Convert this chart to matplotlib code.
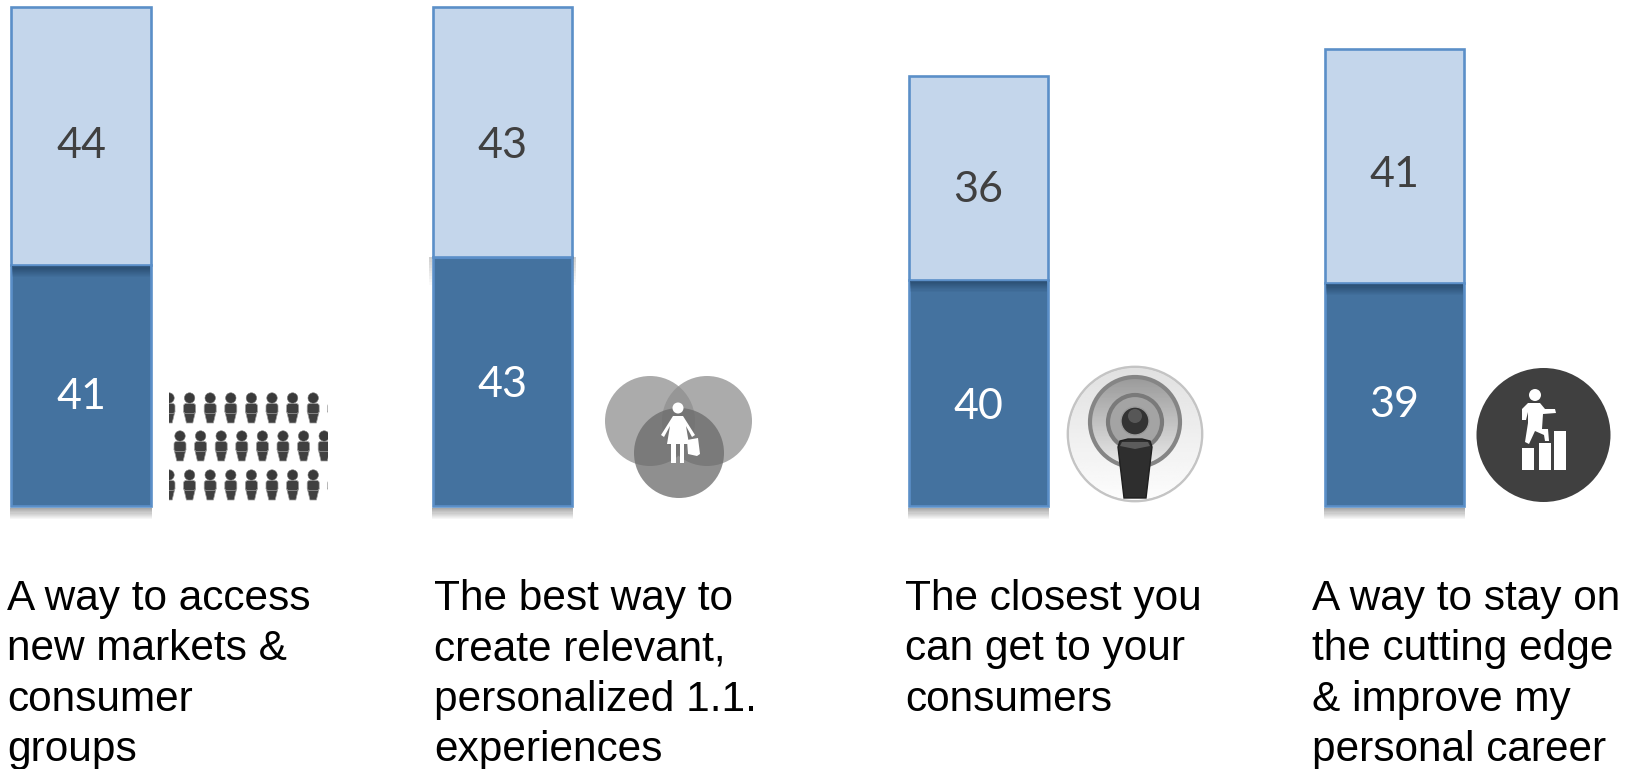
#!/usr/bin/env python3
"""
Stacked survey bars with an icon and a caption for each statement.
"""
import matplotlib

matplotlib.use("Agg")
import matplotlib.pyplot as plt
import numpy as np
from matplotlib.patches import Circle, FancyBboxPatch, Polygon, Rectangle

# survey values per statement
lower_values = [41, 43, 40, 39]
upper_values = [44, 43, 36, 41]
captions = [
    "A way to access\nnew markets &\nconsumer\ngroups",
    "The best way to\ncreate relevant,\npersonalized 1.1.\nexperiences",
    "The closest you\ncan get to your\nconsumers",
    "A way to stay on\nthe cutting edge\n& improve my\npersonal career",
]

WIDTH, HEIGHT = 1629, 769
BAR_LEFT = [11, 433, 909, 1325]
BAR_RIGHT = [151, 572, 1048, 1464]
BAR_TOP = [7, 7, 76, 49]
BAR_BOTTOM = 506
CAPTION_X = [7, 434, 905, 1312]
UPPER_LABEL_Y = [146, 146, 190, 175]
LOWER_LABEL_Y = [397, 385, 407, 405]

DARK = "#44729F"
LIGHT = "#C4D6EB"
EDGE = "#5B8FC8"
TEXT_DARK = "#404040"


def soft_band(ax, x0, x1, y0, y1, color, peak, steps=10):
    """Fade a band from y0 (strong) to y1 (nothing)."""
    ys = np.linspace(y0, y1, steps + 1)
    for i in range(steps):
        alpha = peak * (1 - i / steps)
        ax.add_patch(Rectangle((x0, ys[i]), x1 - x0, ys[i + 1] - ys[i], fc=color, ec="none", alpha=alpha))


def draw_person(ax, cx, top, clip):
    head = Circle((cx, top + 5), 5.2, fc="#3a3a3a", ec="#777777", lw=0.4)
    body = FancyBboxPatch(
        (cx - 3.5, top + 13), 7, 5, boxstyle="round,pad=2.5", fc="#404040", ec="#a0a0a0", lw=0.5
    )
    legs = Polygon(
        [(cx - 6, top + 18), (cx + 6, top + 18), (cx + 3.2, top + 30), (cx - 3.2, top + 30)],
        closed=True, fc="#404040", ec="#a0a0a0", lw=0.5,
    )
    for part in (legs, body, head):
        ax.add_patch(part)
        part.set_clip_path(clip)


def draw_crowd(ax):
    clip = Rectangle((169, 385), 159, 125, transform=ax.transData)
    for top, first in [(393, 169), (431, 180), (470, 169)]:
        for i in range(9):
            draw_person(ax, first + i * 20.6, top, clip)


def draw_venn(ax):
    ax.add_patch(Circle((650, 421), 45, fc="#8f8f8f", ec="none", alpha=0.75))
    ax.add_patch(Circle((707, 421), 45, fc="#8f8f8f", ec="none", alpha=0.75))
    ax.add_patch(Circle((679, 453), 45, fc="#6a6a6a", ec="none", alpha=0.75))
    # shopper
    ax.add_patch(Circle((678, 408), 5.5, fc="white", ec="none"))
    ax.add_patch(Polygon(
        [(673, 416), (683, 416), (695, 435), (692, 437), (686, 426), (689, 444), (684, 444), (684, 463),
         (680, 463), (680, 444), (676, 444), (676, 463), (671, 463), (671, 444), (667, 444), (670, 426),
         (664, 437), (661, 435)],
        closed=True, fc="white", ec="none",
    ))
    ax.add_patch(Polygon([(687, 440), (698, 438), (700, 454), (697, 456), (688, 454)], closed=True, fc="white", ec="none"))


def draw_podcast(ax):
    cx, cy = 1135, 434
    ax.add_patch(Circle((cx, cy), 67, fc="none", ec="#c4c4c4", lw=2))
    backdrop = ax.imshow(
        np.linspace(0.88, 0.99, 64).reshape(-1, 1), cmap="gray", vmin=0, vmax=1,
        extent=(cx - 67, cx + 67, cy + 67, cy - 67), aspect="auto", zorder=1,
    )
    backdrop.set_clip_path(Circle((cx, cy), 66, transform=ax.transData))
    rings = ax.imshow(
        np.linspace(0.6, 0.92, 64).reshape(-1, 1), cmap="gray", vmin=0, vmax=1,
        extent=(cx - 46, cx + 46, 468, 376), aspect="auto", zorder=2,
    )
    rings.set_clip_path(Circle((cx, 422), 46, transform=ax.transData))
    ax.add_patch(Circle((cx, 422), 45, fc="none", ec="#858585", lw=3, zorder=2))
    ax.add_patch(Circle((cx, 422), 27, fc="#a4a4a4", ec="#7a7a7a", lw=3, zorder=2))
    ax.add_patch(Circle((cx, 421), 14, fc="#333333", ec="#999999", lw=1, zorder=3))
    ax.add_patch(Circle((cx, 416), 7, fc="#707070", ec="none", alpha=0.6, zorder=3))
    ax.add_patch(Polygon(
        [(cx - 17, 447), (cx - 15, 441), (cx - 7, 439), (cx + 7, 439), (cx + 15, 441), (cx + 17, 447),
         (cx + 11, 498), (cx - 11, 498)],
        closed=True, fc="#2e2e2e", ec="#1f1f1f", lw=1, zorder=3,
    ))
    ax.add_patch(Polygon(
        [(cx - 15, 446), (cx - 13, 442), (cx + 13, 442), (cx + 15, 446), (cx, 449)],
        closed=True, fc="#5c5c5c", ec="none", zorder=3,
    ))


def draw_climber(ax):
    ax.add_patch(Circle((1543.5, 435), 67, fc="#404040", ec="none"))
    for left, top in [(1522, 448), (1539, 443), (1554, 431)]:
        ax.add_patch(Rectangle((left, top), 12, 470 - top, fc="white", ec="none"))
    ax.add_patch(Circle((1535, 395), 6, fc="white", ec="none"))
    ax.add_patch(Polygon(
        [(1522, 409), (1528, 403), (1540, 403), (1545, 409), (1555, 409), (1556, 413), (1543, 414),
         (1542, 429), (1548, 429), (1549, 441), (1545, 441), (1544, 435), (1535, 431), (1529, 444),
         (1525, 442), (1528, 423), (1528, 412), (1526, 420), (1522, 420)],
        closed=True, fc="white", ec="none",
    ))


def main() -> None:
    plt.rcParams["font.family"] = ["Liberation Sans", "DejaVu Sans"]
    fig = plt.figure(figsize=(WIDTH / 100, HEIGHT / 100), dpi=100, facecolor="white")

    # one small axes per statement, each on its own scale
    for i in range(4):
        left = BAR_LEFT[i] / WIDTH
        width = (BAR_RIGHT[i] - BAR_LEFT[i]) / WIDTH
        bottom = 1 - BAR_BOTTOM / HEIGHT
        height = (BAR_BOTTOM - BAR_TOP[i]) / HEIGHT
        ax = fig.add_axes([left, bottom, width, height], zorder=2)
        low, up = lower_values[i], upper_values[i]
        ax.bar(0, low, width=1, color=DARK, edgecolor=EDGE, linewidth=1.9, clip_on=False)
        ax.bar(0, up, bottom=low, width=1, color=LIGHT, edgecolor=EDGE, linewidth=1.9, clip_on=False)
        ax.set_xlim(-0.5, 0.5)
        ax.set_ylim(0, low + up)
        ax.axis("off")

    # pixel space for shadows, icons and captions
    over = fig.add_axes([0, 0, 1, 1], zorder=3)
    over.patch.set_alpha(0)
    for i in range(4):
        x0, x1 = BAR_LEFT[i], BAR_RIGHT[i]
        soft_band(over, x0 - 1, x1 + 1, BAR_BOTTOM + 2, BAR_BOTTOM + 13, "#444444", 0.45)
        split = BAR_BOTTOM - (BAR_BOTTOM - BAR_TOP[i]) * lower_values[i] / (lower_values[i] + upper_values[i])
        if i == 1:
            # shadow of the upper block showing past the bar sides
            soft_band(over, x0 - 4, x0 - 1, split, split + 28, "#777777", 0.35)
            soft_band(over, x1 + 1, x1 + 4, split, split + 28, "#777777", 0.35)
        else:
            soft_band(over, x0 + 1, x1 - 1, split + 1, split + 12, "#16324f", 0.55)
        over.text((x0 + x1) / 2, UPPER_LABEL_Y[i], str(upper_values[i]), ha="center", va="center",
                  color=TEXT_DARK, fontsize=31, family="Lato")
        over.text((x0 + x1) / 2, LOWER_LABEL_Y[i], str(lower_values[i]), ha="center", va="center",
                  color="white", fontsize=31, family="Lato")
    draw_crowd(over)
    draw_venn(over)
    draw_podcast(over)
    draw_climber(over)

    for x, caption in zip(CAPTION_X, captions):
        over.text(x, 579, caption, ha="left", va="top", fontsize=30.5, color="black", linespacing=1.335)

    over.set_xlim(0, WIDTH)
    over.set_ylim(HEIGHT, 0)
    over.axis("off")

    fig.savefig("out.png", dpi=100)
    plt.close(fig)


if __name__ == "__main__":
    main()
